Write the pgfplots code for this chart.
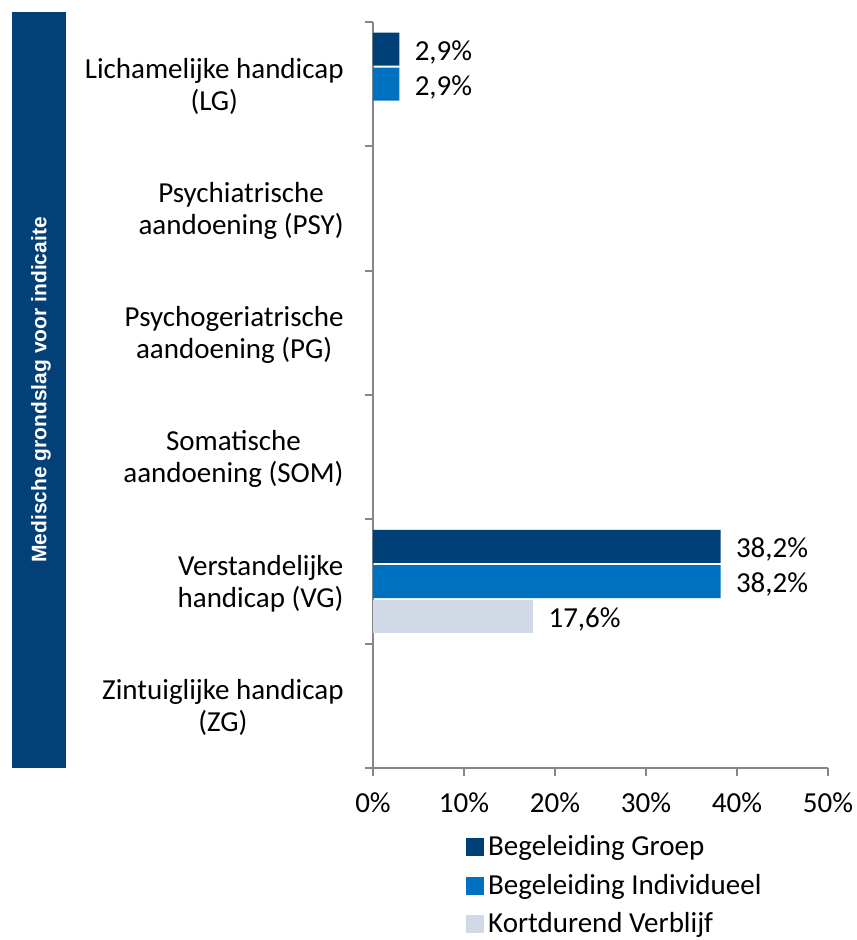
\documentclass[border=0pt]{standalone}
\usepackage{pgfplots}
\pgfplotsset{compat=1.18}
\usepackage{fontspec}
\setmainfont{Carlito}
\newfontfamily\arialfont{Liberation Sans}

\definecolor{groep}{HTML}{004078}
\definecolor{indiv}{HTML}{0070C0}
\definecolor{kort}{HTML}{D1D9E7}
\definecolor{band}{HTML}{034078}
\definecolor{axgray}{HTML}{868686}

\begin{document}
\begin{tikzpicture}
% dark side band with rotated title
\fill[band] (-180.5pt,0pt) rectangle (-153.5pt,378pt);
\node[rotate=90, text=white, inner sep=0pt,
      font=\arialfont\bfseries\fontsize{10.5}{12}\selectfont]
  at (-166pt,189pt) {Medische grondslag voor indicaite};

\begin{axis}[
    at={(0,0)}, anchor=south west,
    scale only axis,
    width=227.5pt, height=373pt,
    xbar,
    bar width=16.5pt,
    xmin=0, xmax=50,
    ymin=-0.5, ymax=5.5,
    axis x line*=bottom,
    axis y line*=left,
    axis line style={draw=axgray, line width=1pt, -},
    tick style={draw=axgray, line width=1pt},
    tick align=outside,
    /pgf/number format/assume math mode=true,
    font=\fontsize{14.5}{16}\selectfont,
    xtick={0,10,...,50},
    xticklabel={\pgfmathprintnumber{\tick}\%},
    major tick length=4pt,
    xticklabel style={yshift=-5pt},
    ytick={0,...,5},
    yticklabels={{Zintuiglijke handicap\\(ZG)},
                 {Verstandelijke\\handicap (VG)},
                 {Somatische\\aandoening (SOM)},
                 {Psychogeriatrische\\aandoening (PG)},
                 {Psychiatrische\\aandoening (PSY)},
                 {Lichamelijke handicap\\(LG)}},
    yticklabel style={align=center, anchor=east, inner sep=0pt, xshift=-10.5pt, yshift=-1pt},
    ytick style={draw=none},
    minor ytick={-0.5,0.5,...,5.5},
    minor tick length=4pt,
    minor y tick style={draw=axgray, line width=1pt},
    nodes near coords={\pgfmathprintnumber[fixed,fixed zerofill,precision=1,use comma]{\pgfplotspointmeta}\%},
    nodes near coords style={anchor=west, inner sep=0pt, xshift=7.5pt, yshift=-1.5pt},
    legend style={at={(0.204,-0.085)}, anchor=north west, draw=none,
                  inner sep=0pt, row sep=3.5pt,
                  font=\fontsize{14.5}{16}\selectfont,
                  nodes={inner sep=2pt}},
    legend cell align=left,
    legend image code/.code={\fill[#1] (0pt,-4.5pt) rectangle (9pt,4.5pt);},
]
\addplot[fill=groep, draw=none, bar shift=17.5pt] coordinates {(2.9,5) (38.2,1)};
\addplot[fill=indiv, draw=none, bar shift=0pt] coordinates {(2.9,5) (38.2,1)};
\addplot[fill=kort, draw=none, bar shift=-17.5pt] coordinates {(17.6,1)};
\legend{Begeleiding Groep, Begeleiding Individueel, Kortdurend Verblijf}
\end{axis}
\pgfresetboundingbox
\useasboundingbox (-186.5pt,-86pt) rectangle (241.5pt,384pt);
\end{tikzpicture}
\end{document}
